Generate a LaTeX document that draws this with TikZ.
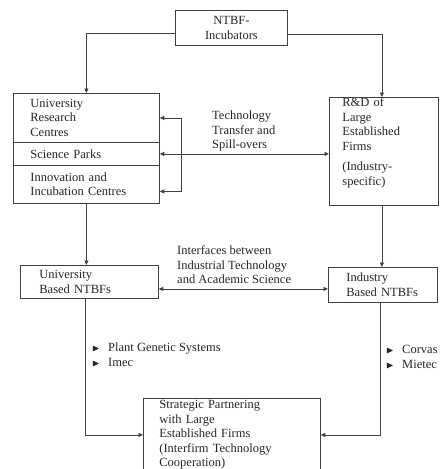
\documentclass[tikz,border=0pt]{standalone}
\usepackage{amssymb}
\usepackage{fontspec}
\setmainfont{Liberation Serif}
\usetikzlibrary{arrows.meta, positioning}
\newcommand{\tri}{\makebox[16pt][l]{\normalsize$\blacktriangleright$}}
\begin{document}
\begin{tikzpicture}[
    x=1pt, y=-1pt,
    every node/.style={font=\fontsize{12.5}{14.5}\selectfont, text=black!85},
    box/.style={draw=black!75, line width=0.8pt, align=left, anchor=north west, inner ysep=0pt},
    note/.style={align=left, anchor=west, inner sep=0pt},
    link/.style={draw=black!75, line width=0.8pt, -{Triangle[length=4.5pt,width=4pt]}},
    both/.style={link, {Triangle[length=4.5pt,width=4pt]}-{Triangle[length=4.5pt,width=4pt]}}
]
\useasboundingbox (0,0) rectangle (441,469);

\node [box, text width=80pt, align=center, inner xsep=16pt, minimum height=35pt] (ntbf) at (175,10) {NTBF-\\Incubators};

\node [box, text width=112pt, inner xsep=17pt, minimum height=49pt] (urc) at (13,93) {University\\Research\\Centres};
\node [box, text width=112pt, inner xsep=17pt, minimum height=23pt] (sp) at (13,142) {Science Parks};
\node [box, text width=112pt, inner xsep=17pt, minimum height=38pt] (iic) at (13,165) {Innovation and\\Incubation Centres};

\node [box, text width=83pt, inner xsep=13pt, minimum height=108pt] (rnd) at (329,97) {R\&D of\\Large\\Established\\Firms\\[6pt](Industry-\\specific)\\[5.5pt]\mbox{}};

\node [box, text width=100pt, inner xsep=19pt, minimum height=33pt] (ubn) at (20,265) {University\\Based NTBFs};
\node [box, text width=73pt, inner xsep=18pt, minimum height=35pt] (ibn) at (328,267) {Industry\\Based NTBFs};

\node [box, text width=145pt, inner xsep=16pt, minimum height=73pt] (spf) at (143,398) {Strategic Partnering\\with Large\\Established Firms\\(Interfirm Technology\\Cooperation)};

\node [note] (tech) at (212,131) {Technology\\Transfer and\\Spill-overs};
\node [note] (iface) at (177,265) {Interfaces between\\Industrial Technology\\and Academic Science};
\node [note] (exl) at (92,355) {\tri Plant Genetic Systems\\\tri Imec};
\node [note] (exr) at (386,357) {\tri Corvas\\\tri Mietec};

\draw [link] ([yshift=-5pt]ntbf.west) -| (urc.north);
\draw [link] ([yshift=-6pt]ntbf.east) -| ([xshift=-2pt]rnd.north);
\draw [both] (urc.east) -- ++(22,0) |- ([yshift=-7pt]iic.east);
\draw [both] (sp.east) -- (sp.east -| rnd.west);
\draw [link] (iic.south) -- (iic.south |- ubn.north);
\draw [link] ([xshift=-2pt]rnd.south) -- ([xshift=-2pt]rnd.south |- ibn.north);
\draw [both] ([yshift=-7pt]ubn.east) -- ([yshift=-7pt]ubn.east -| ibn.west);
\draw [link] ([xshift=-4pt]ubn.south) |- (spf.west);
\draw [link] ([xshift=-3pt]ibn.south) |- (spf.east);
\end{tikzpicture}
\end{document}
